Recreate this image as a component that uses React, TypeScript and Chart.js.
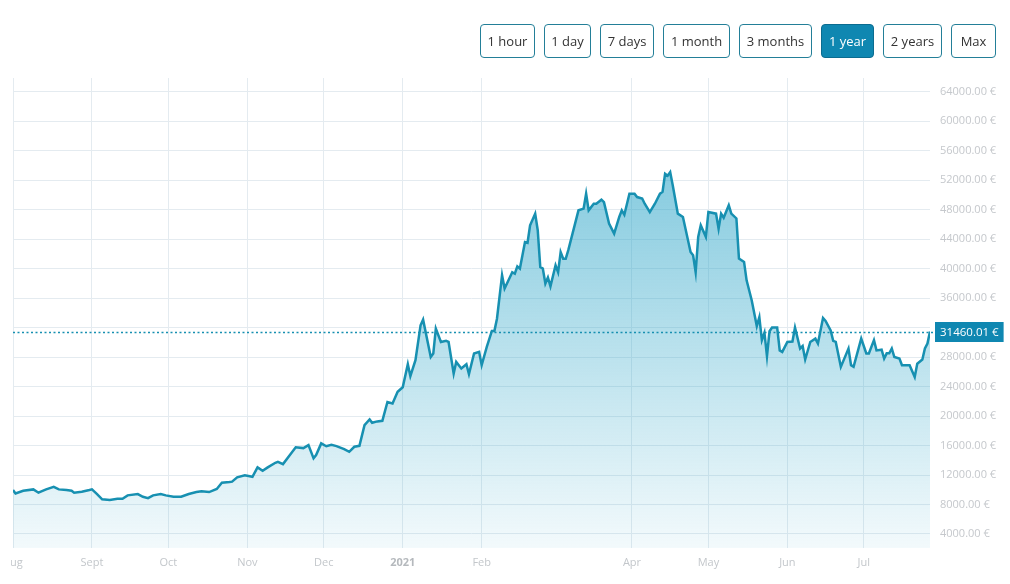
import React, { useEffect, useRef } from "react";
import { Chart, registerables } from "chart.js";

Chart.register(...registerables);

// Days since 1 Aug 2020
const days = [
  0, 1, 4, 8, 10, 13, 16, 18, 21, 23,
  24, 27, 30, 31, 33, 35, 38, 41, 43, 45,
  49, 51, 53, 55, 58, 60, 63, 66, 69, 72,
  74, 77, 80, 82, 85, 86, 88, 91, 94, 96,
  98, 100, 103, 104, 106, 109, 111, 114, 116, 118,
  119, 121, 123, 125, 127, 130, 132, 134, 136, 138,
  140, 141, 143, 145, 147, 149, 151, 153, 155, 156,
  158, 160, 161, 164, 165, 166, 168, 170, 171, 173,
  174, 176, 178, 179, 181, 183, 184, 186, 188, 189,
  190, 192, 193, 196, 197, 198, 199, 201, 202, 203,
  205, 206, 207, 208, 209, 210, 211, 213, 214, 215,
  216, 217, 218, 222, 224, 225, 226, 228, 229, 231,
  232, 234, 236, 238, 239, 240, 242, 244, 245, 247,
  248, 250, 252, 254, 255, 256, 257, 258, 259, 261,
  263, 266, 267, 268, 269, 270, 272, 273, 276, 277,
  278, 279, 281, 282, 284, 285, 287, 288, 289, 290,
  292, 293, 294, 295, 296, 297, 298, 300, 301, 302,
  304, 306, 307, 309, 310, 311, 313, 315, 316, 318,
  319, 321, 322, 323, 325, 328, 329, 330, 333, 335,
  336, 338, 339, 341, 342, 343, 344, 345, 346, 348,
  349, 352, 354, 355, 357, 358, 359, 360,
];

// Price in EUR
const prices = [
  9960, 9500, 9860, 10050, 9600, 10050, 10400, 10050, 9960, 9860,
  9600, 9730, 9960, 10050, 9400, 8700, 8600, 8780, 8780, 9240,
  9420, 9050, 8870, 9240, 9420, 9240, 9050, 9050, 9420, 9690,
  9780, 9690, 10100, 10950, 11040, 11100, 11680, 11950, 11760, 13030,
  12570, 13030, 13660, 13800, 13480, 14840, 15750, 15650, 16060, 14260,
  14700, 16290, 15900, 16100, 15920, 15510, 15150, 15830, 15960, 18770,
  19540, 19080, 19270, 19350, 21900, 21700, 23280, 23900, 27030, 25400,
  27570, 32300, 33070, 28000, 28480, 31860, 30050, 30200, 30050, 25770,
  27340, 26450, 27030, 25680, 28480, 28700, 26900, 29380, 31550, 31550,
  33200, 39100, 37300, 39500, 39300, 40300, 40000, 43600, 43500, 45870,
  47450, 45200, 40200, 40000, 37970, 38800, 37600, 40450, 39500, 42250,
  41350, 41350, 42500, 47900, 48130, 50160, 47900, 48800, 48800, 49350,
  49000, 46100, 44740, 47000, 47900, 47300, 50160, 50160, 49700, 49500,
  48800, 47670, 48800, 50160, 50400, 52870, 52600, 53090, 51290, 47450,
  47000, 42250, 41800, 39500, 44300, 45870, 44300, 47670, 47450, 45400,
  47450, 46900, 48580, 47450, 46800, 41350, 40900, 38400, 37060, 35700,
  32200, 33400, 30300, 31300, 28100, 31500, 32000, 32000, 28900, 28700,
  30050, 30100, 32000, 29160, 29500, 27670, 30050, 30500, 29840, 33300,
  32900, 31600, 30200, 30050, 26670, 29160, 26900, 26670, 30500, 28480,
  28480, 30300, 28900, 29000, 27800, 28500, 28500, 29160, 28000, 27800,
  26900, 26900, 25300, 27100, 27670, 29160, 29840, 31460.01,
];

const currentPrice = 31460.01;

// Month tick positions (days since 1 Aug 2020) and labels
const monthTickDays = [0, 31, 61, 92, 122, 153, 184, 243, 273, 304, 334];
const monthTickLabels = ["Aug", "Sept", "Oct", "Nov", "Dec", "2021", "Feb", "Apr", "May", "Jun", "Jul"];
const yearTickDay = 153;

const yTickValues = [4000, 8000, 12000, 16000, 20000, 24000, 28000, 32000, 36000, 40000, 44000, 48000, 52000, 56000, 60000, 64000];
const yMin = 2100;
const yMax = 65850;
const xMax = 360;

const rangeButtons = ["1 hour", "1 day", "7 days", "1 month", "3 months", "1 year", "2 years", "Max"];
const activeRange = "1 year";

const buttonWidths: Record<string, number> = {
  "1 hour": 55, "1 day": 47, "7 days": 54, "1 month": 67, "3 months": 73, "1 year": 53, "2 years": 59, "Max": 45,
};

const FONT = "'Open Sans', 'DejaVu Sans', sans-serif";
const LINE = "#1790b1";

const pricePlugin = {
  id: "pricePlugin",
  afterDatasetsDraw(chart: any) {
    const { ctx, chartArea, scales } = chart;
    const y = Math.round(scales.y.getPixelForValue(currentPrice)) + 0.5;
    ctx.save();
    ctx.strokeStyle = LINE;
    ctx.lineWidth = 1.5;
    ctx.setLineDash([2, 2.5]);
    ctx.beginPath();
    ctx.moveTo(chartArea.left, y);
    ctx.lineTo(chartArea.right + 5, y);
    ctx.stroke();
    ctx.restore();
  },
  afterDraw(chart: any) {
    const { ctx, chartArea, scales } = chart;
    const y = Math.round(scales.y.getPixelForValue(currentPrice));
    const text = currentPrice.toFixed(2) + " €";
    ctx.save();
    ctx.font = `11.5px ${FONT}`;
    const w = ctx.measureText(text).width + 10;
    const x0 = chartArea.right + 5;
    ctx.fillStyle = "#0f87b1";
    ctx.fillRect(x0, y - 10, w, 20);
    ctx.fillStyle = "#ffffff";
    ctx.textBaseline = "middle";
    ctx.textAlign = "left";
    ctx.fillText(text, x0 + 5, y + 0.5);
    ctx.restore();
  },
};

function PriceChart() {
  const ref = useRef<HTMLCanvasElement | null>(null);
  useEffect(() => {
    if (!ref.current) return;
    const points = days.map((d, i) => ({ x: d, y: prices[i] }));
    const chart = new Chart(ref.current, {
      type: "line",
      data: {
        datasets: [
          {
            data: points,
            borderColor: LINE,
            borderWidth: 2.5,
            pointRadius: 0,
            tension: 0,
            fill: "start",
            backgroundColor: (c: any) => {
              const { chart } = c;
              const area = chart.chartArea;
              if (!area) return "rgba(45,165,200,0.3)";
              const g = chart.ctx.createLinearGradient(0, area.top, 0, area.bottom);
              g.addColorStop(0, "rgba(45,165,200,0.7)");
              g.addColorStop(1, "rgba(45,165,200,0.06)");
              return g;
            },
          },
        ],
      },
      options: {
        animation: false,
        responsive: false,
        devicePixelRatio: 1,
        layout: { padding: { left: 2, top: 78, right: 0, bottom: 0 } },
        plugins: { legend: { display: false }, tooltip: { enabled: false } },
        scales: {
          x: {
            type: "linear",
            min: 0,
            max: xMax,
            afterBuildTicks: (scale: any) => {
              scale.ticks = monthTickDays.map((v) => ({ value: v }));
            },
            afterFit: (scale: any) => {
              scale.height = 36;
              scale.paddingLeft = 0;
              scale.paddingRight = 0;
            },
            grid: { color: "#e4ebf0", lineWidth: 1, drawTicks: false },
            border: { display: false },
            ticks: {
              autoSkip: false,
              maxRotation: 0,
              padding: 8,
              color: (c: any) => (c.tick && c.tick.value === yearTickDay ? "#b5b9bd" : "#c3c7cb"),
              font: (c: any) => ({
                family: FONT,
                size: 11,
                weight: c.tick && c.tick.value === yearTickDay ? "bold" : "normal",
              }),
              callback: (v: any) => {
                const i = monthTickDays.indexOf(Number(v));
                return i >= 0 ? monthTickLabels[i] : "";
              },
            },
          },
          y: {
            type: "linear",
            position: "right",
            min: yMin,
            max: yMax,
            afterBuildTicks: (scale: any) => {
              scale.ticks = yTickValues.map((v) => ({ value: v }));
            },
            afterFit: (scale: any) => {
              scale.width = 80;
            },
            grid: { color: "#e4ebf0", lineWidth: 1, drawTicks: false },
            border: { display: false },
            ticks: {
              padding: 10,
              color: "#c5c8cc",
              font: { family: FONT, size: 11 },
              callback: (v: any) => Number(v).toFixed(2) + " €",
            },
          },
        },
      },
      plugins: [pricePlugin],
    } as any);
    return () => chart.destroy();
  }, []);
  return (
    <canvas
      ref={ref}
      width={999}
      height={584}
      style={{ position: "absolute", left: 11, top: 0, width: 999, height: 584 }}
    />
  );
}

export default function App() {
  return (
    <div
      style={{
        position: "fixed",
        left: 0,
        top: 0,
        width: 1010,
        height: 584,
        background: "#ffffff",
        overflow: "hidden",
        fontFamily: FONT,
      }}
    >
      <PriceChart />
      <div
        style={{
          position: "absolute",
          top: 24,
          right: 14,
          display: "flex",
          gap: 9,
          zIndex: 2,
        }}
      >
        {rangeButtons.map((b) => {
          const active = b === activeRange;
          return (
            <div
              key={b}
              style={{
                width: buttonWidths[b],
                height: 34,
                boxSizing: "border-box",
                border: `1px solid ${active ? "#0b6c90" : "#237f98"}`,
                borderRadius: 4,
                background: active ? "#0f87b1" : "#ffffff",
                color: active ? "#ffffff" : "#333333",
                fontSize: 13,
                display: "flex",
                alignItems: "center",
                justifyContent: "center",
                whiteSpace: "nowrap",
              }}
            >
              {b}
            </div>
          );
        })}
      </div>
    </div>
  );
}
